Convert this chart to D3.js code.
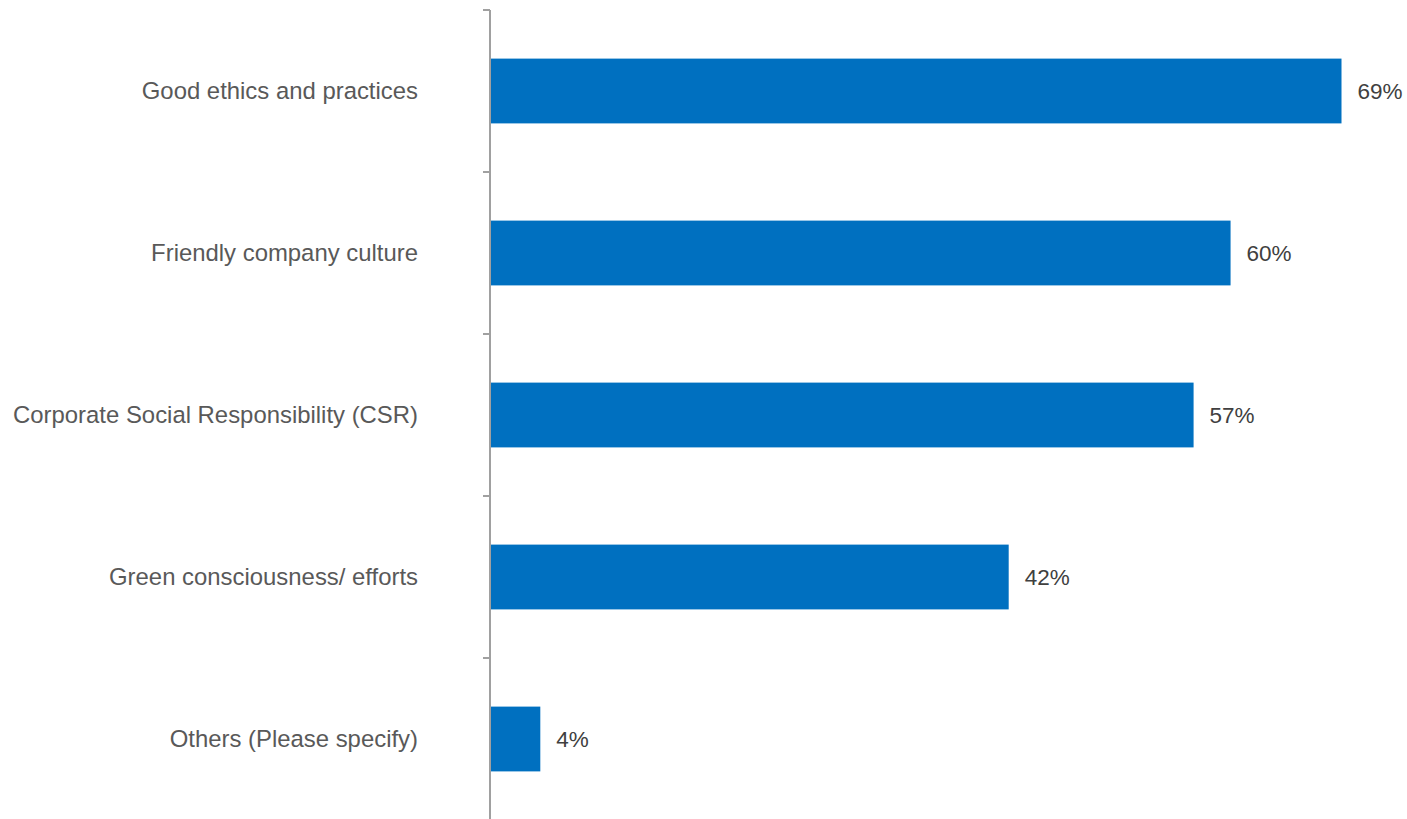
<!DOCTYPE html>
<html>
<head>
<meta charset="utf-8">
<script src="https://cdn.jsdelivr.net/npm/d3@7"></script>
<style>
  html, body { margin: 0; padding: 0; background: #fff; }
  svg { display: block; }
</style>
</head>
<body>
<svg id="chart" width="1407" height="819"></svg>
<script>
// Share of respondents citing each factor
const categories = [
  "Good ethics and practices",
  "Friendly company culture",
  "Corporate Social Responsibility (CSR)",
  "Green consciousness/ efforts",
  "Others (Please specify)"
];
const values = [69, 60, 57, 42, 4];

const svg = d3.select("#chart");
const axisX = 490;
const plotTop = 10, plotBottom = 820;

const y = d3.scaleBand()
  .domain(categories)
  .range([plotTop, plotBottom])
  .paddingInner(0.6)
  .paddingOuter(0.3);

const x = d3.scaleLinear()
  .domain([0, 69])
  .range([axisX + 1, 1341.5]);

// Bars
svg.append("g")
  .selectAll("rect")
  .data(values)
  .join("rect")
  .attr("x", x(0))
  .attr("y", (d, i) => y(categories[i]))
  .attr("width", d => x(d) - x(0))
  .attr("height", y.bandwidth())
  .attr("fill", "#0070C0");

// Category axis: line with ticks at band boundaries
const axisG = svg.append("g");
axisG.append("line")
  .attr("x1", axisX).attr("x2", axisX)
  .attr("y1", plotTop).attr("y2", plotBottom)
  .attr("stroke", "#a0a0a0").attr("stroke-width", 2);

const boundaries = d3.range(categories.length + 1)
  .map(i => plotTop + i * (plotBottom - plotTop) / categories.length);
axisG.selectAll("line.tick")
  .data(boundaries)
  .join("line")
  .attr("class", "tick")
  .attr("x1", axisX - 7).attr("x2", axisX)
  .attr("y1", d => d).attr("y2", d => d)
  .attr("stroke", "#a0a0a0").attr("stroke-width", 2);

// Category labels
svg.append("g")
  .selectAll("text")
  .data(categories)
  .join("text")
  .attr("x", 418)
  .attr("y", d => y(d) + y.bandwidth() / 2)
  .attr("dy", "0.35em")
  .attr("text-anchor", "end")
  .attr("font-family", "Liberation Sans, Arial, sans-serif")
  .attr("font-size", 23.9)
  .attr("fill", "#595959")
  .text(d => d);

// Value labels
svg.append("g")
  .selectAll("text")
  .data(values)
  .join("text")
  .attr("x", d => x(d) + 16)
  .attr("y", (d, i) => y(categories[i]) + y.bandwidth() / 2)
  .attr("dy", "0.35em")
  .attr("font-family", "Liberation Sans, Arial, sans-serif")
  .attr("font-size", 22.5)
  .attr("fill", "#404040")
  .text(d => d + "%");
</script>
</body>
</html>
